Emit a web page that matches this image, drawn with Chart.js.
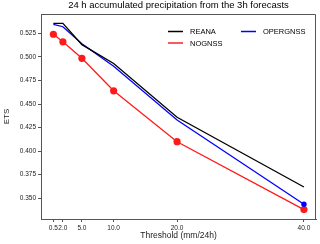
<!DOCTYPE html>
<html>
<head>
<meta charset="utf-8">
<script src="https://cdn.jsdelivr.net/npm/chart.js@4/dist/chart.umd.min.js"></script>
<style>
  html, body { margin: 0; padding: 0; background: #fff; }
  #wrap { width: 320px; height: 244px; }
</style>
</head>
<body>
<div id="wrap"><canvas id="chart" width="320" height="244"></canvas></div>
<script>
// thresholds (mm/24h)
const thresholds = [0.5, 2.0, 5.0, 10.0, 20.0, 40.0];
const yTicks = [0.350, 0.375, 0.400, 0.425, 0.450, 0.475, 0.500, 0.525];

// ETS per run
const reana = [0.5356, 0.5356, 0.513, 0.493, 0.436, 0.362];
const opergnss = [0.5345, 0.532, 0.514, 0.490, 0.433, 0.3436];
const nognss = [0.524, 0.516, 0.4985, 0.464, 0.410, 0.338];

const toPts = arr => arr.map((v, i) => ({ x: thresholds[i], y: v }));
const FONT = 'Liberation Sans, Arial, sans-serif';
const AXIS = '#555';

// frame around the plot + legend inside top right
const framePlugin = {
  id: 'frame',
  afterDraw(chart) {
    const { ctx, chartArea: a } = chart;
    ctx.save();
    ctx.strokeStyle = AXIS;
    ctx.lineWidth = 1;
    ctx.beginPath();
    ctx.moveTo(a.left, a.top + 0.5);
    ctx.lineTo(a.right - 0.5, a.top + 0.5);
    ctx.lineTo(a.right - 0.5, a.bottom);
    ctx.stroke();

    const items = [
      { label: 'REANA', color: '#000', dx: 127, dy: 17.5 },
      { label: 'OPERGNSS', color: '#0000ff', dx: 200, dy: 17.5 },
      { label: 'NOGNSS', color: '#ff2020', dx: 127, dy: 29 }
    ];
    ctx.font = '7.5px ' + FONT;
    ctx.textBaseline = 'middle';
    ctx.fillStyle = '#000';
    items.forEach(it => {
      const x = a.left + it.dx, y = a.top + it.dy;
      ctx.strokeStyle = it.color;
      ctx.lineWidth = 1.5;
      ctx.beginPath();
      ctx.moveTo(x, y);
      ctx.lineTo(x + 15, y);
      ctx.stroke();
      ctx.fillText(it.label, x + 22, y + 0.5);
    });
    ctx.restore();
  }
};

new Chart(document.getElementById('chart'), {
  type: 'line',
  data: {
    datasets: [
      {
        label: 'REANA',
        data: toPts(reana),
        borderColor: '#000',
        borderWidth: 1.3,
        pointRadius: 0,
        tension: 0
      },
      {
        label: 'OPERGNSS',
        data: toPts(opergnss),
        borderColor: '#0000ff',
        backgroundColor: '#0000ff',
        borderWidth: 1.3,
        pointRadius: [0, 0, 0, 0, 0, 2.7],
        pointBorderWidth: 0,
        tension: 0
      },
      {
        label: 'NOGNSS',
        data: toPts(nognss),
        borderColor: '#ff1a1a',
        backgroundColor: '#ff1a1a',
        borderWidth: 1.3,
        pointRadius: 3.6,
        pointBorderWidth: 0,
        tension: 0
      }
    ]
  },
  options: {
    responsive: false,
    animation: false,
    events: [],
    layout: { padding: { left: 0, right: 4, top: 0, bottom: 0 } },
    plugins: {
      legend: { display: false },
      tooltip: { enabled: false },
      title: {
        display: true,
        fullSize: false,
        text: '24 h accumulated precipitation from the 3h forecasts',
        color: '#000',
        font: { family: FONT, size: 9.5, weight: 'normal' },
        padding: { top: 0, bottom: 2.6 }
      }
    },
    scales: {
      x: {
        type: 'linear',
        min: -1.45,
        max: 41.9,
        afterBuildTicks: axis => { axis.ticks = thresholds.map(v => ({ value: v })); },
        afterFit: axis => { axis.height = 25; },
        border: { display: true, color: AXIS },
        grid: { drawOnChartArea: false, drawTicks: true, tickLength: 3, color: AXIS },
        ticks: {
          autoSkip: false,
          maxRotation: 0,
          padding: 2,
          color: '#222',
          font: { family: FONT, size: 6.5 },
          callback: v => Number(v).toFixed(1)
        },
        title: {
          display: true,
          text: 'Threshold (mm/24h)',
          color: '#222',
          font: { family: FONT, size: 8.5 },
          padding: { top: 0, bottom: 3 }
        }
      },
      y: {
        min: 0.328,
        max: 0.5455,
        afterBuildTicks: axis => { axis.ticks = yTicks.map(v => ({ value: v })); },
        afterFit: axis => { axis.width = 41; },
        border: { display: true, color: AXIS },
        grid: { drawOnChartArea: false, drawTicks: true, tickLength: 3, color: AXIS },
        ticks: {
          padding: 2,
          color: '#222',
          font: { family: FONT, size: 6.5 },
          callback: v => Number(v).toFixed(3)
        },
        title: {
          display: true,
          text: 'ETS',
          color: '#222',
          font: { family: FONT, size: 8 },
          padding: { top: 2, bottom: 0 }
        }
      }
    }
  },
  plugins: [framePlugin]
});
</script>
</body>
</html>
